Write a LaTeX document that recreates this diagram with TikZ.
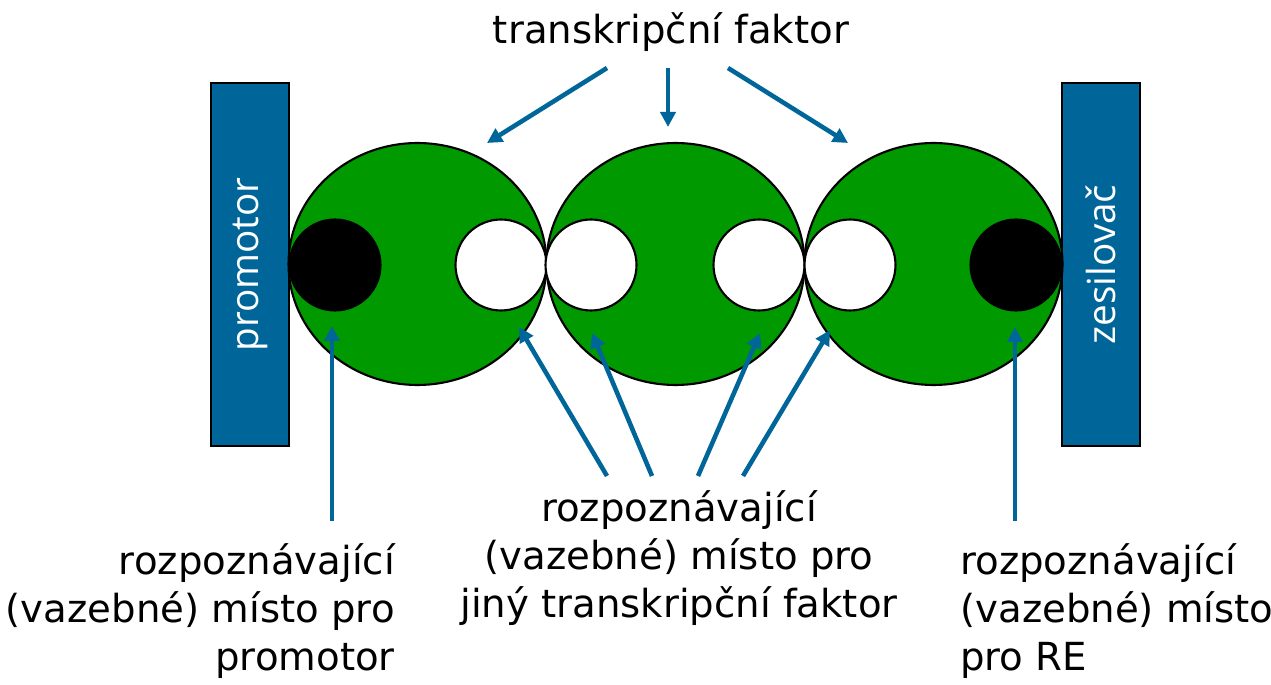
\documentclass[tikz,border=0pt]{standalone}
\usepackage{fontspec}
\setmainfont{DejaVu Sans}
\newfontfamily\boxfont{Open Sans}
\usetikzlibrary{arrows.meta, shapes.geometric}
\definecolor{tfblue}{RGB}{0,102,153}
\definecolor{tfgreen}{RGB}{0,153,0}
\tikzset{
  dnabox/.style={draw=black, line width=1.2pt, fill=tfblue, text=white, rotate=90,
    minimum width=7.26cm, minimum height=1.56cm, inner sep=0pt,
    font=\boxfont\fontsize{22}{26}\selectfont},
  factor/.style={ellipse, draw=black, line width=1.2pt, fill=tfgreen,
    minimum width=5.16cm, minimum height=4.84cm, inner sep=0pt},
  site/.style={circle, draw=black, line width=1.2pt, fill=white,
    minimum size=1.82cm, inner sep=0pt},
  boundsite/.style={site, fill=black},
  pointer/.style={tfblue, line width=2.6pt, -{Triangle[length=0.3cm,width=0.3cm]}},
  tflabel/.style={font=\fontsize{22}{27.4}\selectfont, inner sep=0pt}
}

\begin{document}
\begin{tikzpicture}[x=0.02cm, y=-0.02cm]
    \useasboundingbox (0,0) rectangle (1271,685);

    % 1. DNA elements on both sides
    \node[dnabox] (promotor) at (250,264.5) {promotor};
    \node[dnabox] (zesilovac) at (1101,264.5) {zesilovač};

    % 2. Three transcription factors in a row
    \node[factor] (tf1) at (417.5,264) {};
    \node[factor] (tf2) at (675.5,264) {};
    \node[factor] (tf3) at (933.5,264) {};

    % Binding sites (black = bound to DNA, white = free for another factor)
    \node[boundsite] (site1a) at (335,265) {};
    \node[site] (site1b) at (501,265) {};
    \node[site] (site2a) at (591,265) {};
    \node[site] (site2b) at (759,265) {};
    \node[site] (site3a) at (850,265) {};
    \node[boundsite] (site3b) at (1016,265) {};

    % 3. Labels
    \node[tflabel, anchor=base] (toplab) at (671,44) {transkripční faktor};
    \node[tflabel, align=right, anchor=north east] (leftlab) at (395,543)
        {rozpoznávající\\(vazebné) místo pro\\promotor};
    \node[tflabel, align=center, anchor=north] (midlab) at (679,490)
        {rozpoznávající\\(vazebné) místo pro\\jiný transkripční faktor};
    \node[tflabel, align=left, anchor=north west] (rightlab) at (960,543)
        {rozpoznávající\\(vazebné) místo\\pro RE};

    % 4. Arrow ends
    \coordinate (t1) at (607,68);  \coordinate (h1) at (487,143);
    \coordinate (t2) at (668,68);  \coordinate (h2) at (668,127);
    \coordinate (t3) at (728,68);  \coordinate (h3) at (848,143);
    \coordinate (b1) at (332,521); \coordinate (k1) at (332,326);
    \coordinate (b2) at (607,476); \coordinate (k2) at (519,327);
    \coordinate (b3) at (652,476); \coordinate (k3) at (592,333);
    \coordinate (b4) at (698,476); \coordinate (k4) at (760,333);
    \coordinate (b5) at (743,476); \coordinate (k5) at (830,330);
    \coordinate (b6) at (1015,521); \coordinate (k6) at (1015,327);

    % Arrows from the top label to the factors
    \draw[pointer] (t1) -- (h1);
    \draw[pointer] (t2) -- (h2);
    \draw[pointer] (t3) -- (h3);

    % Arrows from the bottom labels to the binding sites
    \draw[pointer] (b1) -- (k1);
    \draw[pointer] (b2) -- (k2);
    \draw[pointer] (b3) -- (k3);
    \draw[pointer] (b4) -- (k4);
    \draw[pointer] (b5) -- (k5);
    \draw[pointer] (b6) -- (k6);
\end{tikzpicture}
\end{document}
